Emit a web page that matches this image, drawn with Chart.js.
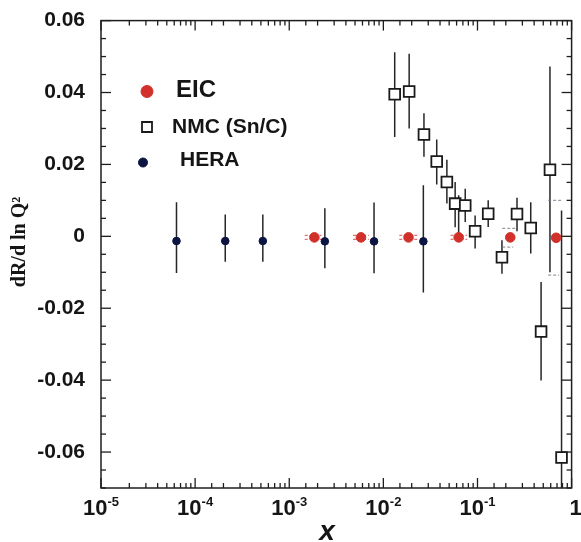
<!DOCTYPE html>
<html>
<head>
<meta charset="utf-8">
<script src="https://cdn.jsdelivr.net/npm/chart.js@4.4.1/dist/chart.umd.min.js"></script>
<style>
html,body{margin:0;padding:0;background:#fff}
#wrap{width:581px;height:542px;position:relative}
</style>
</head>
<body>
<div id="wrap"><canvas id="c"></canvas></div>
<script>
const eicX = [0.00185, 0.00578, 0.0185, 0.0631, 0.223, 0.685];
const eicY = [-0.0003, -0.0003, -0.0003, -0.0003, -0.0003, -0.0004];
const eicXLow = [0.00146, 0.00476, 0.01476, 0.0517, null, null];
const eicXHigh = [0.0022, 0.0070, 0.0233, 0.0778, null, null];
const eicYHigh = [null, null, null, 0.0114, null, null];
const eicBandLow = [null, null, null, null, -0.0030, -0.0108];
const eicBandHigh = [null, null, null, null, 0.0022, 0.0100];

const nmcX = [0.0132, 0.0188, 0.0270, 0.0369, 0.0473, 0.0579, 0.0741, 0.0944, 0.130, 0.182, 0.263, 0.368, 0.474, 0.589, 0.782];
const nmcY = [0.0395, 0.0403, 0.0283, 0.0208, 0.0151, 0.0091, 0.0086, 0.0014, 0.0063, -0.0058, 0.0062, 0.0023, -0.0265, 0.0185, -0.0615];
const nmcLow = [0.0276, 0.0300, 0.0221, 0.0144, 0.0091, 0.0025, 0.0040, -0.0034, 0.0026, -0.0104, 0.0014, -0.0048, -0.0401, -0.0100, -0.0800];
const nmcHigh = [0.0512, 0.0508, 0.0342, 0.0269, 0.0213, 0.0151, 0.0132, 0.0058, 0.0100, -0.0011, 0.0107, 0.0095, -0.0127, 0.0472, 0.0072];

const heraX = [6.34e-5, 2.09e-4, 5.24e-4, 2.39e-3, 7.96e-3, 0.0266];
const heraY = [-0.0013, -0.0013, -0.0013, -0.0014, -0.0014, -0.0014];
const heraLow = [-0.0102, -0.0071, -0.0071, -0.0089, -0.0103, -0.0156];
const heraHigh = [0.0095, 0.0061, 0.0061, 0.0078, 0.0094, 0.0142];

const xDecades = [1e-5, 1e-4, 1e-3, 1e-2, 1e-1, 1];
const xDecadeExp = ['-5', '-4', '-3', '-2', '-1', ''];

const FONT = "'Liberation Sans', Arial, Helvetica, sans-serif";

function pts(xs, ys) {
  return xs.map((x, i) => ({ x, y: ys[i] }));
}

function isDecade(v) {
  const l = Math.log10(v);
  return Math.abs(l - Math.round(l)) < 1e-6;
}

function isMajorY(v) {
  return Math.round(v * 1000) % 20 === 0;
}

function line(ctx, x1, y1, x2, y2) {
  ctx.beginPath(); ctx.moveTo(x1, y1); ctx.lineTo(x2, y2); ctx.stroke();
}

const decor = {
  id: 'decor',
  beforeDatasetsDraw(chart) {
    const { ctx, chartArea: a, scales: { x, y } } = chart;
    ctx.save();
    ctx.beginPath(); ctx.rect(a.left, a.top, a.right - a.left, a.bottom - a.top); ctx.clip();
    ctx.strokeStyle = '#262626'; ctx.lineWidth = 1.5;
    [[heraX, heraLow, heraHigh], [nmcX, nmcLow, nmcHigh]].forEach(([xs, lo, hi]) => {
      xs.forEach((v, i) => {
        const px = x.getPixelForValue(v);
        line(ctx, px, y.getPixelForValue(lo[i]), px, y.getPixelForValue(hi[i]));
      });
    });
    eicX.forEach((v, i) => {
      const px = x.getPixelForValue(v), py = y.getPixelForValue(eicY[i]);
      if (eicYHigh[i] != null) {
        ctx.strokeStyle = '#262626'; ctx.setLineDash([]);
        line(ctx, px, py, px, y.getPixelForValue(eicYHigh[i]));
      }
      ctx.strokeStyle = 'rgba(215,70,70,0.75)'; ctx.lineWidth = 1.2; ctx.setLineDash([3, 2]);
      if (eicXLow[i] != null) {
        line(ctx, x.getPixelForValue(eicXLow[i]), py - 2, x.getPixelForValue(eicXHigh[i]), py - 2);
        line(ctx, x.getPixelForValue(eicXLow[i]), py + 2, x.getPixelForValue(eicXHigh[i]), py + 2);
      }
      if (eicBandLow[i] != null) {
        ctx.strokeStyle = 'rgba(120,110,130,0.7)';
        line(ctx, px - 8, y.getPixelForValue(eicBandHigh[i]), px + 7, y.getPixelForValue(eicBandHigh[i]));
        line(ctx, px - 8, y.getPixelForValue(eicBandLow[i]), px + 3, y.getPixelForValue(eicBandLow[i]));
      }
      ctx.setLineDash([]); ctx.lineWidth = 1.5;
    });
    ctx.restore();
  },
  afterDraw(chart) {
    const { ctx, chartArea: a, scales: { x, y } } = chart;
    ctx.save();
    ctx.strokeStyle = '#1e1e1e'; ctx.lineWidth = 1.5;
    ctx.strokeRect(a.left, a.top, a.right - a.left, a.bottom - a.top);

    ctx.lineWidth = 1.3;
    y.ticks.forEach(t => {
      const py = y.getPixelForValue(t.value), len = isMajorY(t.value) ? 10 : 5;
      line(ctx, a.left, py, a.left + len, py);
      line(ctx, a.right, py, a.right - len, py);
    });
    x.ticks.forEach(t => {
      const px = x.getPixelForValue(t.value), len = isDecade(t.value) ? 10 : 5;
      line(ctx, px, a.bottom, px, a.bottom - len);
      line(ctx, px, a.top, px, a.top + len);
    });

    // x tick labels with superscript exponents
    ctx.fillStyle = '#151515'; ctx.textBaseline = 'alphabetic'; ctx.textAlign = 'left';
    xDecades.forEach((v, i) => {
      const px = x.getPixelForValue(v);
      const base = xDecadeExp[i] ? '10' : '1';
      ctx.font = `bold 22px ${FONT}`;
      const wb = ctx.measureText(base).width;
      ctx.font = `bold 13px ${FONT}`;
      const we = xDecadeExp[i] ? ctx.measureText(xDecadeExp[i]).width : 0;
      const x0 = xDecadeExp[i] ? px - (wb + we) / 2 : px - 2;
      ctx.font = `bold 22px ${FONT}`;
      ctx.fillText(base, x0, a.bottom + 27);
      if (xDecadeExp[i]) {
        ctx.font = `bold 13px ${FONT}`;
        ctx.fillText(xDecadeExp[i], x0 + wb, a.bottom + 18);
      }
    });

    // axis titles
    ctx.font = `italic bold 28px ${FONT}`; ctx.textAlign = 'center';
    ctx.fillText('x', 327, 540);
    ctx.save();
    ctx.translate(20, 242); ctx.rotate(-Math.PI / 2);
    ctx.font = "bold 20px 'Liberation Serif', 'Times New Roman', serif";
    ctx.textBaseline = 'middle';
    ctx.fillText('dR/d ln Q\u00B2', 0, 0);
    ctx.restore();

    // legend
    const rows = [
      { mx: 147, my: 91.5, tx: 176, ty: 97, size: 24, r: 6 },
      { mx: 147, my: 127, tx: 172, ty: 133, size: 21, r: 5 },
      { mx: 143, my: 162.5, tx: 180, ty: 166, size: 21, r: 4.5 }
    ];
    chart.data.datasets.forEach((ds, i) => {
      const p = rows[i];
      ctx.fillStyle = ds.backgroundColor; ctx.strokeStyle = ds.borderColor; ctx.lineWidth = ds.borderWidth;
      ctx.beginPath();
      if (ds.pointStyle === 'rect') ctx.rect(p.mx - p.r, p.my - p.r, 2 * p.r, 2 * p.r);
      else ctx.arc(p.mx, p.my, p.r, 0, Math.PI * 2);
      ctx.fill(); ctx.stroke();
      ctx.fillStyle = '#151515'; ctx.textAlign = 'left'; ctx.textBaseline = 'alphabetic';
      ctx.font = `bold ${p.size}px ${FONT}`;
      ctx.fillText(ds.label, p.tx, p.ty);
    });
    ctx.restore();
  }
};

new Chart(document.getElementById('c'), {
  type: 'scatter',
  data: {
    datasets: [
      { label: 'EIC', data: pts(eicX, eicY), pointStyle: 'circle', pointRadius: 4.8, backgroundColor: '#d2302a', borderColor: '#d2302a', borderWidth: 1 },
      { label: 'NMC (Sn/C)', data: pts(nmcX, nmcY), pointStyle: 'rect', pointRadius: 7.6, backgroundColor: '#ffffff', borderColor: '#1a1a1a', borderWidth: 1.8 },
      { label: 'HERA', data: pts(heraX, heraY), pointStyle: 'circle', pointRadius: 3.8, backgroundColor: '#0c1442', borderColor: '#0c1442', borderWidth: 1 }
    ]
  },
  options: {
    responsive: true,
    maintainAspectRatio: false,
    animation: false,
    layout: { padding: { top: 20, right: 2, left: 0, bottom: 0 } },
    plugins: { legend: { display: false }, tooltip: { enabled: false } },
    scales: {
      x: {
        type: 'logarithmic', min: 1e-5, max: 1,
        grid: { display: false }, border: { display: false },
        ticks: { display: false },
        afterFit: s => { s.height = 54; }
      },
      y: {
        min: -0.07, max: 0.06,
        grid: { display: false }, border: { display: false },
        ticks: {
          stepSize: 0.005, autoSkip: false, padding: 8, color: '#151515',
          font: { family: FONT, size: 21, weight: 'bold' },
          callback: v => isMajorY(v) ? (Math.abs(v) < 1e-9 ? '0' : v.toFixed(2)) : ''
        },
        afterFit: s => { s.width = 101; }
      }
    }
  },
  plugins: [decor]
});
</script>
</body>
</html>
